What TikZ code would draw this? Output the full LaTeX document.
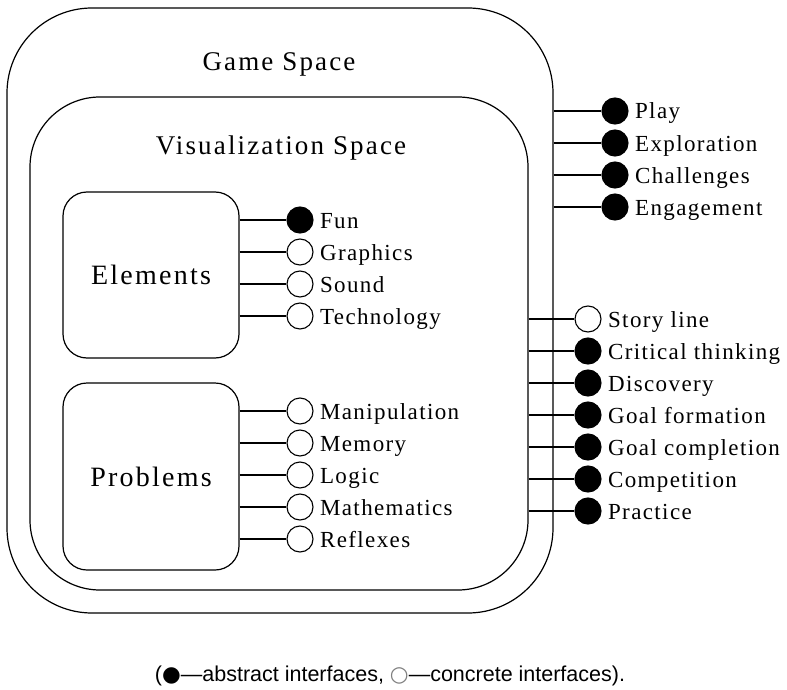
\documentclass[tikz,border=0pt]{standalone}
\usepackage{fontspec}
\setmainfont{Liberation Serif}
\newfontfamily\spacedfont[LetterSpace=8]{Liberation Serif}
\newfontfamily\itemfamily[LetterSpace=6]{Liberation Serif}
\newfontfamily\capfont{Liberation Sans}
\newfontfamily\symfont{DejaVu Sans}
\newcommand{\titlefont}{\spacedfont\fontsize{27}{32}\selectfont}
\newcommand{\boxfont}{\spacedfont\fontsize{28}{33}\selectfont}
\newcommand{\itemfont}{\itemfamily\fontsize{23}{27}\selectfont}
\usetikzlibrary{positioning}

\begin{document}
\begin{tikzpicture}[x=1pt, y=-1pt,
		spacebox/.style={draw, line width=1.2pt, inner sep=0pt},
		bubble/.style={circle, draw, line width=1.1pt, minimum size=26pt, inner sep=0pt, fill=white},
		fullbubble/.style={bubble, fill=black},
		wire/.style={line width=1.1pt},
		itemtext/.style={anchor=base west, xshift=3pt, yshift=-8pt, font=\itemfont}
		]
		
		\useasboundingbox (0,0) rectangle (787,690);
		
		% the two spaces and the two inner boxes
		\node[spacebox, minimum width=546pt, minimum height=605pt, rounded corners=85pt](game) at (280,310.5){};
		\node[spacebox, minimum width=498pt, minimum height=493pt, rounded corners=70pt](vis) at (279,343.5){};
		\node[spacebox, minimum width=176pt, minimum height=166pt, rounded corners=24pt](elements) at (151,275){};
		\node[spacebox, minimum width=176pt, minimum height=187pt, rounded corners=24pt](problems) at (151,476.5){};
		
		\node[font=\titlefont](gametitle) at (279,64){Game Space};
		\node[font=\titlefont](vistitle) at (281,148){Visualization Space};
		\node[font=\boxfont](elemtitle) at (elements){Elements};
		\node[font=\boxfont](probtitle) at (problems){Problems};
		
		% elements
		\node[fullbubble](fun) at (300,220){};
		\node[bubble, below=4.9pt of fun](graphics){};
		\node[bubble, below=4.9pt of graphics](sound){};
		\node[bubble, below=4.9pt of sound](technology){};
		\node[itemtext](funtext) at (fun.east){Fun};
		\node[itemtext](graphicstext) at (graphics.east){Graphics};
		\node[itemtext](soundtext) at (sound.east){Sound};
		\node[itemtext](technologytext) at (technology.east){Technology};
		\draw[wire] (elements.east |- fun) -- (fun);
		\draw[wire] (elements.east |- graphics) -- (graphics);
		\draw[wire] (elements.east |- sound) -- (sound);
		\draw[wire] (elements.east |- technology) -- (technology);
		
		% problems
		\node[bubble](manipulation) at (300,411){};
		\node[bubble, below=4.9pt of manipulation](memory){};
		\node[bubble, below=4.9pt of memory](logic){};
		\node[bubble, below=4.9pt of logic](mathematics){};
		\node[bubble, below=4.9pt of mathematics](reflexes){};
		\node[itemtext](manipulationtext) at (manipulation.east){Manipulation};
		\node[itemtext](memorytext) at (memory.east){Memory};
		\node[itemtext](logictext) at (logic.east){Logic};
		\node[itemtext](mathematicstext) at (mathematics.east){Mathematics};
		\node[itemtext](reflexestext) at (reflexes.east){Reflexes};
		\draw[wire] (problems.east |- manipulation) -- (manipulation);
		\draw[wire] (problems.east |- memory) -- (memory);
		\draw[wire] (problems.east |- logic) -- (logic);
		\draw[wire] (problems.east |- mathematics) -- (mathematics);
		\draw[wire] (problems.east |- reflexes) -- (reflexes);
		
		% game space interfaces
		\node[fullbubble](play) at (615,111){};
		\node[fullbubble, below=4.9pt of play](exploration){};
		\node[fullbubble, below=4.9pt of exploration](challenges){};
		\node[fullbubble, below=4.9pt of challenges](engagement){};
		\node[itemtext](playtext) at (play.east){Play};
		\node[itemtext](explorationtext) at (exploration.east){Exploration};
		\node[itemtext](challengestext) at (challenges.east){Challenges};
		\node[itemtext](engagementtext) at (engagement.east){Engagement};
		\draw[wire] (game.east |- play) -- (play);
		\draw[wire] (game.east |- exploration) -- (exploration);
		\draw[wire] (game.east |- challenges) -- (challenges);
		\draw[wire] (game.east |- engagement) -- (engagement);
		
		% visualization space interfaces
		\node[bubble](story) at (588,319){};
		\node[fullbubble, below=4.9pt of story](critical){};
		\node[fullbubble, below=4.9pt of critical](discovery){};
		\node[fullbubble, below=4.9pt of discovery](formation){};
		\node[fullbubble, below=4.9pt of formation](completion){};
		\node[fullbubble, below=4.9pt of completion](competition){};
		\node[fullbubble, below=4.9pt of competition](practice){};
		\node[itemtext](storytext) at (story.east){Story line};
		\node[itemtext](criticaltext) at (critical.east){Critical thinking};
		\node[itemtext](discoverytext) at (discovery.east){Discovery};
		\node[itemtext](formationtext) at (formation.east){Goal formation};
		\node[itemtext](completiontext) at (completion.east){Goal completion};
		\node[itemtext](competitiontext) at (competition.east){Competition};
		\node[itemtext](practicetext) at (practice.east){Practice};
		\draw[wire] (vis.east |- story) -- (story);
		\draw[wire] (vis.east |- critical) -- (critical);
		\draw[wire] (vis.east |- discovery) -- (discovery);
		\draw[wire] (vis.east |- formation) -- (formation);
		\draw[wire] (vis.east |- completion) -- (completion);
		\draw[wire] (vis.east |- competition) -- (competition);
		\draw[wire] (vis.east |- practice) -- (practice);
		
		% legend
		\node[font=\capfont\fontsize{21.5}{25}\selectfont, inner sep=0pt](legend) at (390,676){({\symfont ●}—abstract interfaces, {\symfont\color{gray}○}—concrete interfaces).};
	\end{tikzpicture}
\end{document}
